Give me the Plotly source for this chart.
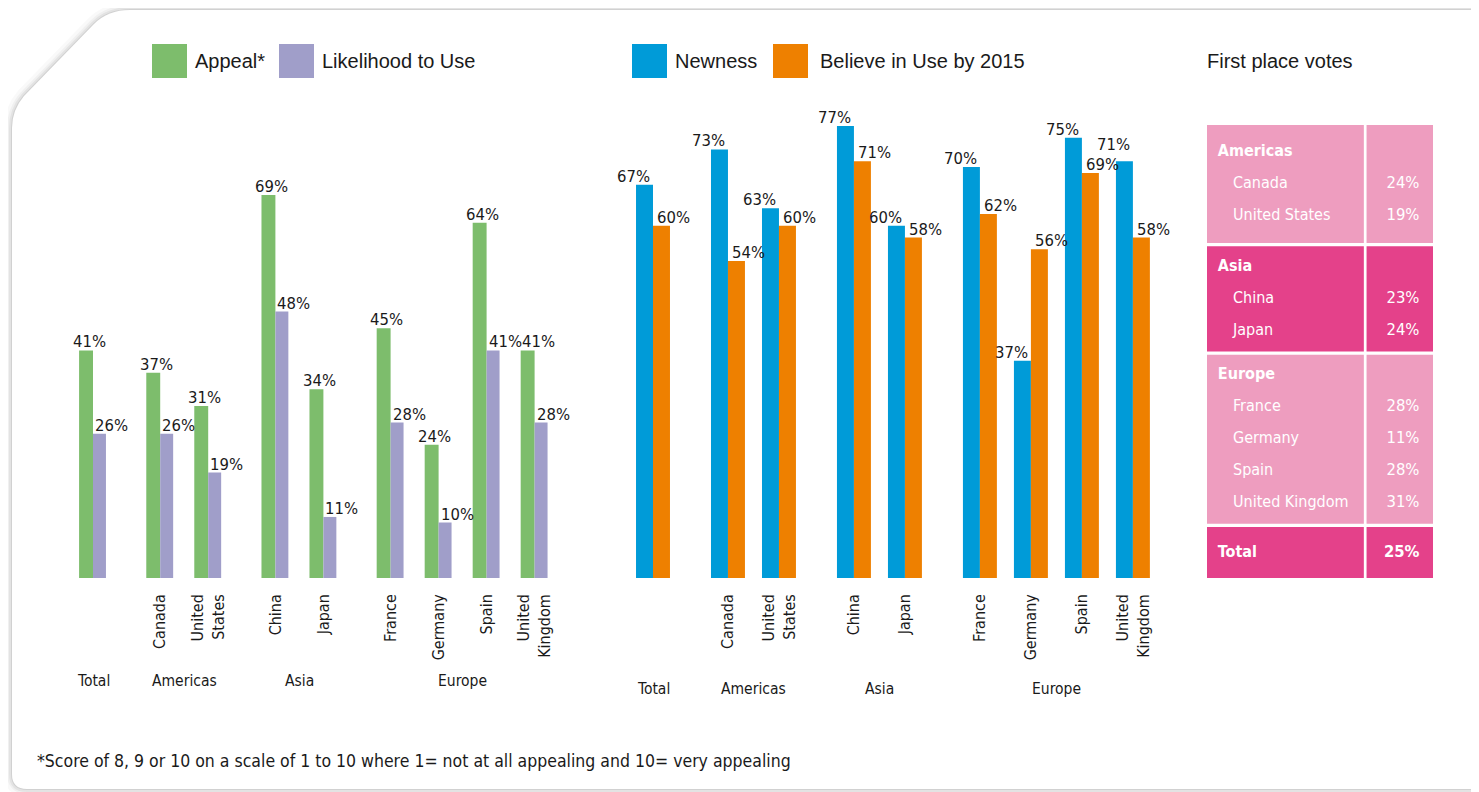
import plotly.graph_objects as go

W, H = 1479, 792
OFF = 8  # page body margin in the browser

# ---------------- data ----------------
regions = ["Total", "Americas", "Asia", "Europe"]
countries = ["Total", "Canada", "United States", "China", "Japan",
             "France", "Germany", "Spain", "United Kingdom"]
country_region = [0, 1, 1, 2, 2, 3, 3, 3, 3]
tick_labels = ["", "Canada", "United<br>States", "China", "Japan",
               "France", "Germany", "Spain", "United<br>Kingdom"]

appeal = [41, 37, 31, 69, 34, 45, 24, 64, 41]
likelihood = [26, 26, 19, 48, 11, 28, 10, 41, 28]
newness = [67, 73, 63, 77, 60, 70, 37, 75, 71]
believe = [60, 54, 60, 71, 58, 62, 56, 69, 58]

table_regions = ["Americas", "Asia", "Europe"]
table_countries = [["Canada", "United States"], ["China", "Japan"],
                   ["France", "Germany", "Spain", "United Kingdom"]]
table_votes = [[24, 19], [23, 24], [28, 11, 28, 31]]
total_votes = 25

# ---------------- style ----------------
GREEN, PURPLE = "#7dbd6c", "#a09ec9"
BLUE, ORANGE = "#009bd8", "#ee8000"
PINK_L, PINK_D = "#ee9dbf", "#e4418a"
COND = "DejaVu Sans Condensed, Liberation Sans Narrow, Roboto, Arial, sans-serif"
REG = "Liberation Sans, Arial, Helvetica, sans-serif"
TXT = "#1a1a1a"
LBL = 16.5


def px(x):
    return (x - OFF) / W


def py(y):
    return 1 - (y - OFF) / H


# axis geometry (reference pixels)
L_DOM, L_RNG = (45, 573), (-1, 10)
R_DOM, R_RNG = (576.5, 1188.5), (-1.5, 10.5)
BASE_Y = 578
L_SCALE, R_SCALE = 5.55, 5.87   # pixels per percentage point
YMAX = 80

# group-aware positions (unit = within-group spacing)
left_pos = [i + 0.4 * g for i, g in enumerate(country_region)]
right_pos = [i + 0.47 * g for i, g in enumerate(country_region)]

fig = go.Figure()

lw_g, lw_p = 0.29, 0.27
rw = 0.333
fig.add_trace(go.Bar(x=left_pos, y=appeal, width=lw_g, offset=-lw_g,
                     marker=dict(color=GREEN, line_width=0), xaxis="x", yaxis="y",
                     hoverinfo="skip", showlegend=False))
fig.add_trace(go.Bar(x=left_pos, y=likelihood, width=lw_p, offset=0,
                     marker=dict(color=PURPLE, line_width=0), xaxis="x", yaxis="y",
                     hoverinfo="skip", showlegend=False))
fig.add_trace(go.Bar(x=right_pos, y=newness, width=rw, offset=-rw,
                     marker=dict(color=BLUE, line_width=0), xaxis="x2", yaxis="y2",
                     hoverinfo="skip", showlegend=False))
fig.add_trace(go.Bar(x=right_pos, y=believe, width=rw, offset=0,
                     marker=dict(color=ORANGE, line_width=0), xaxis="x2", yaxis="y2",
                     hoverinfo="skip", showlegend=False))

annotations = []


def place_labels(items, dom, rng, scale, xref, yref):
    """items: (x, value, xshift). Nudge labels that would collide."""
    placed = []
    w, h = 1.95 * LBL, 1.1 * LBL
    for x, v, sh in items:
        cx = dom[0] + (x - rng[0]) / (rng[1] - rng[0]) * (dom[1] - dom[0]) + sh
        by = BASE_Y - v * scale
        ysh = 0
        for pcx, pby in placed:
            if abs(cx - pcx) < w and abs(by - pby) < h:
                dx = w - (cx - pcx) if cx >= pcx else None
                if dx is not None and dx <= 8:
                    sh += dx + 1
                    cx += dx + 1
                else:
                    up = by - (pby - h) + 2
                    ysh += up
                    by -= up
        placed.append((cx, by))
        annotations.append(dict(x=x, y=v, xref=xref, yref=yref, text=f"{v}%",
                                showarrow=False, xanchor="center", yanchor="bottom",
                                xshift=sh, yshift=-3 + ysh,
                                font=dict(family=COND, size=LBL, color=TXT)))


left_items, right_items = [], []
for p, a, l in zip(left_pos, appeal, likelihood):
    left_items += [(p - lw_g / 2, a, 3), (p + lw_p / 2, l, 12)]
for p, n, b in zip(right_pos, newness, believe):
    right_items += [(p - rw / 2, n, -11), (p + rw / 2, b, 12)]
place_labels(left_items, L_DOM, L_RNG, L_SCALE, "x", "y")
place_labels(right_items, R_DOM, R_RNG, R_SCALE, "x2", "y2")

# group labels under each chart
for g, name in enumerate(regions):
    lp = [p for p, r in zip(left_pos, country_region) if r == g]
    rp = [p for p, r in zip(right_pos, country_region) if r == g]
    annotations.append(dict(x=sum(lp) / len(lp), y=py(681), xref="x", yref="paper",
                            text=name, showarrow=False, yanchor="middle",
                            font=dict(family=COND, size=15.5, color=TXT)))
    annotations.append(dict(x=sum(rp) / len(rp), y=py(689), xref="x2", yref="paper",
                            text=name, showarrow=False, yanchor="middle",
                            font=dict(family=COND, size=15.5, color=TXT)))

# ---------------- table (own axes, row units) ----------------
shapes = []
col_split_l, col_split_r = 0.694, 0.706
sec_gap = 0.1
top_pads = [0.85, 0.65, 0.65]   # first line offset inside each section
top = 0.0
lab_x, lab_y, lab_t = [], [], []
val_x, val_y, val_t = [], [], []
sec_colors = [PINK_L, PINK_D, PINK_L]
for k, (reg, cs, vs) in enumerate(zip(table_regions, table_countries, table_votes)):
    pad = top_pads[k]
    h = len(cs) + 2 * pad
    for x0, x1 in [(0, col_split_l), (col_split_r, 1)]:
        shapes.append(dict(type="rect", xref="x3", yref="y3", x0=x0, x1=x1,
                           y0=top, y1=top + h, fillcolor=sec_colors[k],
                           line_width=0, layer="below"))
    lab_x.append(0.048); lab_y.append(top + pad); lab_t.append(f"<b>{reg}</b>")
    for j, (c, v) in enumerate(zip(cs, vs)):
        lab_x.append(0.115); lab_y.append(top + pad + 1 + j); lab_t.append(c)
        val_x.append(0.94); val_y.append(top + pad + 1 + j); val_t.append(f"{v}%")
    top += h + sec_gap
for x0, x1 in [(0, col_split_l), (col_split_r, 1)]:
    shapes.append(dict(type="rect", xref="x3", yref="y3", x0=x0, x1=x1,
                       y0=top, y1=top + 1.6, fillcolor=PINK_D, line_width=0, layer="below"))
lab_x.append(0.048); lab_y.append(top + 0.82); lab_t.append("<b>Total</b>")
val_x.append(0.94); val_y.append(top + 0.82); val_t.append(f"<b>{total_votes}%</b>")
table_bottom = top + 1.6

fig.add_trace(go.Scatter(x=lab_x, y=lab_y, text=lab_t, mode="text",
                         textposition="middle right", xaxis="x3", yaxis="y3",
                         textfont=dict(family=COND, size=16, color="white"),
                         hoverinfo="skip", showlegend=False))
fig.add_trace(go.Scatter(x=val_x, y=val_y, text=val_t, mode="text",
                         textposition="middle left", xaxis="x3", yaxis="y3",
                         textfont=dict(family=COND, size=16.5, color="white"),
                         hoverinfo="skip", showlegend=False))


# ---------------- panel background with shadow ----------------
def P(x, y):
    return f"{px(x):.5f},{py(y):.5f}"


panel = (f"M {P(1500, 10)} L {P(130, 10)} Q {P(108, 10)} {P(94, 24)} "
         f"L {P(24, 96)} Q {P(12, 110)} {P(12, 128)} L {P(12, 774)} "
         f"Q {P(12, 789)} {P(27, 789)} L {P(1500, 789)} Z")
bg_shapes = []
for wdt, op in [(16, 0.025), (10, 0.035), (6, 0.05), (2, 0.08)]:
    bg_shapes.append(dict(type="path", path=panel, xref="paper", yref="paper",
                          line=dict(color=f"rgba(0,0,0,{op})", width=wdt),
                          fillcolor="rgba(0,0,0,0)", layer="below"))
bg_shapes.append(dict(type="path", path=panel, xref="paper", yref="paper",
                      line=dict(color="rgba(0,0,0,0)", width=0),
                      fillcolor="white", layer="below"))

# ---------------- legends (drawn) ----------------
legend_items = [("Appeal*", GREEN, 152, 193), ("Likelihood to Use", PURPLE, 279, 320),
                ("Newness", BLUE, 632, 673), ("Believe in Use by 2015", ORANGE, 773, 818)]
leg_shapes = []
for name, col, sx, tx in legend_items:
    leg_shapes.append(dict(type="rect", xref="paper", yref="paper",
                           x0=px(sx), x1=px(sx + 35), y0=py(78), y1=py(44),
                           fillcolor=col, line_width=0))
    annotations.append(dict(x=px(tx), y=py(61), xref="paper", yref="paper", text=name,
                            showarrow=False, xanchor="left", yanchor="middle",
                            font=dict(family=REG, size=20, color=TXT)))
annotations.append(dict(x=px(1205), y=py(61), xref="paper", yref="paper",
                        text="First place votes", showarrow=False, xanchor="left",
                        yanchor="middle", font=dict(family=REG, size=20, color=TXT)))
annotations.append(dict(x=px(35), y=py(761), xref="paper", yref="paper",
                        text="*Score of 8, 9 or 10 on a scale of 1 to 10 where 1= not at all "
                             "appealing and 10= very appealing",
                        showarrow=False, xanchor="left", yanchor="middle",
                        font=dict(family=COND, size=17.5, color=TXT)))

base = py(BASE_Y)
hidden = dict(visible=False, showgrid=False, zeroline=False)
tick_common = dict(tickangle=-90, ticks="", showgrid=False, zeroline=False,
                   showline=False, ticklabelstandoff=12,
                   tickfont=dict(family=COND, size=16, color=TXT))
fig.update_layout(
    width=W, height=H, margin=dict(l=0, r=0, t=0, b=0),
    paper_bgcolor="white", plot_bgcolor="rgba(0,0,0,0)",
    barmode="overlay",
    xaxis=dict(domain=[px(L_DOM[0]), px(L_DOM[1])], range=list(L_RNG),
               tickvals=left_pos, ticktext=tick_labels, **tick_common),
    yaxis=dict(domain=[base, py(BASE_Y - YMAX * L_SCALE)], range=[0, YMAX], **hidden),
    xaxis2=dict(domain=[px(R_DOM[0]), px(R_DOM[1])], range=list(R_RNG),
                tickvals=right_pos, ticktext=tick_labels, **tick_common),
    yaxis2=dict(domain=[base, py(BASE_Y - YMAX * R_SCALE)], range=[0, YMAX],
                anchor="x2", **hidden),
    xaxis3=dict(domain=[px(1207), px(1433)], range=[0, 1], anchor="y3", **hidden),
    yaxis3=dict(domain=[base, py(125)], range=[table_bottom, 0], anchor="x3", **hidden),
    shapes=bg_shapes + shapes + leg_shapes,
    annotations=annotations,
)

fig.write_html("out.html")
